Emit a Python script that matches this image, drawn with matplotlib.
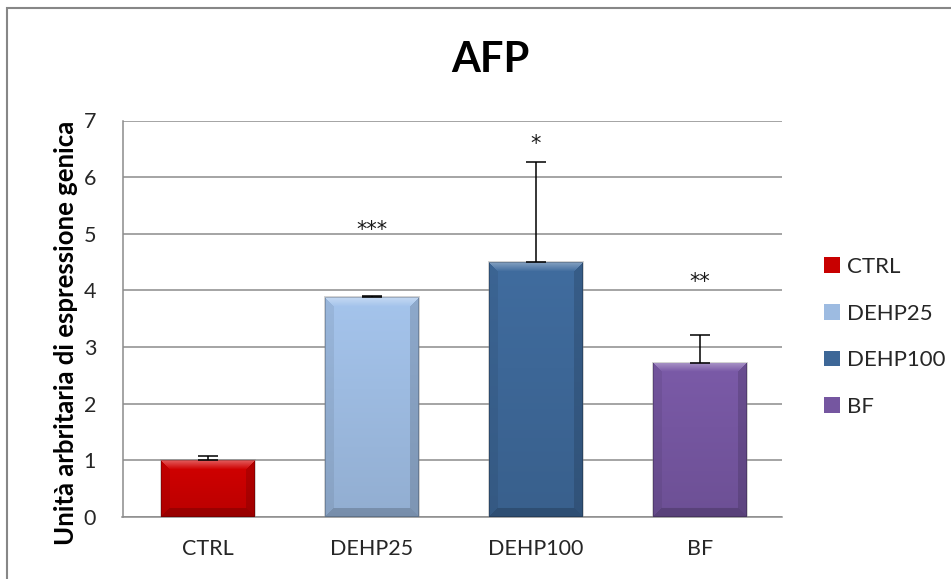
import numpy as np
import matplotlib
matplotlib.use("Agg")
import matplotlib.pyplot as plt
from matplotlib.patches import Patch, Rectangle
from matplotlib.colors import to_rgb

plt.rcParams['font.family'] = ['Lato', 'DejaVu Sans']

# ---- data ----
title = "AFP"
ylabel = "Unità arbritaria di espressione genica"
categories = ["CTRL", "DEHP25", "DEHP100", "BF"]
means = [1.00, 3.88, 4.50, 2.72]
errors = [0.08, 0.03, 1.76, 0.49]
significance = ["", "***", "*", "**"]
sig_y = [None, 5.17, 6.68, 4.25]
yticks = [0, 1, 2, 3, 4, 5, 6, 7]
colors = ["#C80000", "#9DBBE1", "#3D6797", "#7556A0"]

W, H = 951, 579
fig = plt.figure(figsize=(W / 100, H / 100), dpi=100)
fig.patch.set_facecolor("white")

# outer chart border (cropped at right/bottom)
fig.patches.append(Rectangle((6.5 / W, -0.05), 2, 1 - 7.5 / H + 0.05,
                             transform=fig.transFigure, fill=False,
                             edgecolor="#878787", lw=1.5))

ax_l, ax_r, ax_t, ax_b = 122.5, 782, 120.5, 517
ax = fig.add_axes([ax_l / W, 1 - ax_b / H, (ax_r - ax_l) / W, (ax_b - ax_t) / H])
xlo, xhi = -0.52, len(categories) - 0.5
ax.set_xlim(xlo, xhi)
ax.set_ylim(0, 7)

x = np.arange(len(categories))
bw = 0.57
bars = ax.bar(x, means, width=bw, color=colors, zorder=3,
              edgecolor="none")

# bevel shading
px_per_x = (ax_r - ax_l) / (xhi - xlo)
px_per_y = (ax_b - ax_t) / 7.0


def bevel_image(color, wpx, hpx):
    base = np.array(to_rgb(color))
    rows = np.arange(hpx)[:, None]
    cols = np.arange(wpx)[None, :]
    dt = np.broadcast_to(rows, (hpx, wpx)).astype(float)
    db = (hpx - 1 - dt)
    dl = np.broadcast_to(cols, (hpx, wpx)).astype(float)
    dr = (wpx - 1 - dl)
    t = dt / max(hpx - 1, 1)
    img = base[None, None, :] * (1.05 - 0.12 * t[..., None])
    b = 9.0
    stack = np.stack([dt, db, dl, dr], axis=-1)
    region = np.argmin(stack, axis=-1)
    m = np.min(stack, axis=-1)
    inb = m < b
    white = np.ones(3)
    sel = inb & (region == 0)
    f = (1 - m[sel] / b)[:, None]
    img[sel] = img[sel] * (1 - 0.35 * f) + white * 0.35 * f
    sel = inb & (region == 1)
    img[sel] = img[sel] * 0.82
    sel = inb & (region == 2)
    img[sel] = img[sel] * 0.93
    sel = inb & (region == 3)
    img[sel] = img[sel] * 0.86
    edge = m < 1
    img[edge] = img[edge] * 0.8
    return np.clip(img, 0, 1)


for bar, c in zip(bars, colors):
    x0 = bar.get_x()
    w = bar.get_width()
    h = bar.get_height()
    wpx = int(round(w * px_per_x))
    hpx = int(round(h * px_per_y))
    img = bevel_image(c, wpx, hpx)
    im = ax.imshow(img, extent=(x0, x0 + w, 0, h), aspect='auto',
                   zorder=3.5, interpolation='bilinear')
    im.set_clip_path(bar)
    ax.add_patch(Rectangle((x0, 0), w, h, fill=False, edgecolor="#7f7f7f",
                           lw=1.4, alpha=0.35, zorder=3.2))

ax.set_xlim(xlo, xhi)
ax.set_ylim(0, 7)

# error bars (upper only)
ax.errorbar(x, means, yerr=[np.zeros(len(errors)), errors], fmt='none',
            ecolor="black", elinewidth=1.1, capsize=7, capthick=1.1,
            zorder=4)

for xi, s, yy in zip(x, significance, sig_y):
    if s:
        ax.annotate(s, (xi, yy), xytext=(0, -4), textcoords='offset points',
                    ha='center', va='center', fontsize=15,
                    family='DejaVu Sans', color="#1a1a1a", zorder=5)

ax.set_yticks(yticks)
ax.set_yticklabels([str(v) for v in yticks])
ax.set_xticks(x)
ax.set_xticklabels(categories)
ax.tick_params(axis='y', length=0, pad=19, labelsize=15.5, colors="#262626")
ax.tick_params(axis='x', length=0, pad=16, labelsize=15.5, colors="#262626")
ax.yaxis.grid(True, color="#8c8c8c", lw=1.1, zorder=0)
ax.set_axisbelow(True)
for s in ["top", "right"]:
    ax.spines[s].set_visible(False)
ax.spines["left"].set_color("#8c8c8c")
ax.spines["bottom"].set_color("#8c8c8c")
ax.spines["left"].set_linewidth(1.1)
ax.spines["bottom"].set_linewidth(1.1)

fig.text(490 / W, 1 - 60 / H, title, ha='center', va='center',
         fontsize=30, fontweight='bold', color="black")
fig.text(66 / W, 1 - 333 / H, ylabel, rotation=90, ha='center', va='center',
         fontsize=18.5, fontweight='bold', color="black")

handles = [Patch(facecolor=c, edgecolor="none") for c in colors]
leg = fig.legend(handles, categories, loc='center left',
                 bbox_to_anchor=(824 / W, 1 - 337 / H), frameon=False,
                 fontsize=16, borderpad=0, borderaxespad=0,
                 handlelength=0.7, handleheight=0.7, handletextpad=0.35,
                 labelspacing=1.2)
for t in leg.get_texts():
    t.set_color("#262626")

fig.savefig("out.png", dpi=100, facecolor="white")
